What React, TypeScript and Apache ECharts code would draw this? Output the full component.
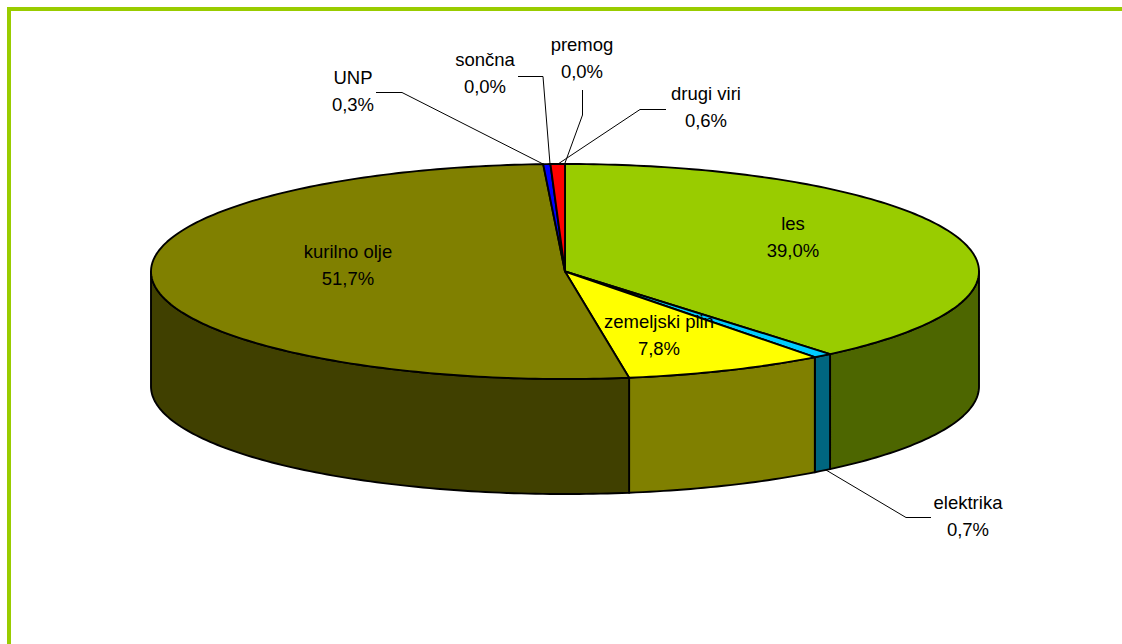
import React, { useEffect, useRef } from "react";
import * as echarts from "echarts";

const categories = ["les", "elektrika", "zemeljski plin", "kurilno olje", "UNP", "sončna", "premog", "drugi viri"];
const shares = [38.96, 0.749, 7.84, 51.66, 0.28, 0.0, 0.0, 0.56];
const topColors = ["#99CC00", "#00CCFF", "#FFFF00", "#808000", "#0000FF", "#FFFFFF", "#FFCC00", "#FF0000"];
const sideColors = ["#4D6600", "#006680", "#808000", "#404000", "#000080", "#808080", "#806600", "#800000"];

// Layout only
const CX = 565, CY = 271.5, RX = 414, RY = 107.5, DEPTH = 115;
const labelCenters: number[][] = [
  [793, 224.5], [968, 503.5], [659, 322.5], [348, 252.5], [353, 78.5], [485, 60.5], [582, 45.5], [706, 94.5],
];
const leaderLines: (number[][] | null)[] = [
  null,
  [[826, 470], [906, 517.5], [931, 517.5]],
  null,
  null,
  [[376, 92.5], [402, 92.5], [543, 164]],
  [[518, 76.5], [543, 76.5], [550, 164]],
  [[582.5, 90], [582.5, 115], [565, 163]],
  [[666, 109.5], [640, 109.5], [558, 164]],
];

const total = shares.reduce((a, b) => a + b, 0);
const startAngles: number[] = [];
shares.reduce((acc, v, i) => {
  startAngles[i] = (acc / total) * 360;
  return acc + v;
}, 0);
const pt = (deg: number, dy = 0) => {
  const r = (deg * Math.PI) / 180;
  return [CX + RX * Math.sin(r), CY - RY * Math.cos(r) + dy];
};
const arc = (a: number, b: number, dy = 0) => {
  const out: number[][] = [];
  const n = Math.max(1, Math.ceil(Math.abs(b - a)));
  for (let k = 0; k <= n; k++) out.push(pt(a + ((b - a) * k) / n, dy));
  return out;
};
const fmt = (v: number) => v.toFixed(1).replace(".", ",") + "%";
const outline = { stroke: "#000", lineWidth: 1.9, lineJoin: "round" as const };
const FONT = '18.5px "Liberation Sans", Arial, sans-serif';

function renderSlice(params: any) {
  const i = params.dataIndex;
  const a = startAngles[i];
  const b = a + (shares[i] / total) * 360;
  const children: any[] = [];
  const sa = Math.max(a, 90), sb = Math.min(b, 270);
  if (sb > sa) {
    children.push({
      type: "polygon",
      shape: { points: [...arc(sa, sb), ...arc(sb, sa, DEPTH)] },
      style: { fill: sideColors[i], ...outline },
    });
  }
  if (shares[i] > 0) {
    children.push({
      type: "polygon",
      z2: 5,
      shape: { points: [[CX, CY], ...arc(a, b)] },
      style: { fill: topColors[i], ...outline },
    });
  }
  return { type: "group", children };
}

function renderLabel(params: any) {
  const i = params.dataIndex;
  const [x, y] = labelCenters[i];
  const children: any[] = [
    {
      type: "text",
      style: { x, y: y - 1, text: categories[i], fill: "#000", align: "center", verticalAlign: "middle", font: FONT },
    },
    {
      type: "text",
      style: { x, y: y + 26, text: fmt(shares[i]), fill: "#000", align: "center", verticalAlign: "middle", font: FONT },
    },
  ];
  const line = leaderLines[i];
  if (line) {
    children.push({
      type: "polyline",
      shape: { points: line },
      style: { stroke: "#000", lineWidth: 1, fill: "none" },
    });
  }
  return { type: "group", children };
}

export default function App() {
  const ref = useRef<HTMLDivElement>(null);
  useEffect(() => {
    document.body.style.margin = "0";
    const chart = echarts.init(ref.current!, null, { renderer: "svg" });
    chart.setOption({
      animation: false,
      backgroundColor: "#FFFFFF",
      graphic: [
        { type: "rect", shape: { x: 7, y: 7, width: 1115, height: 4 }, style: { fill: "#99CC00" } },
        { type: "rect", shape: { x: 7, y: 7, width: 4, height: 637 }, style: { fill: "#99CC00" } },
      ],
      series: [
        {
          type: "custom",
          coordinateSystem: "none",
          silent: true,
          z: 2,
          data: shares.map((v, i) => [i, v]),
          renderItem: renderSlice,
        },
        {
          type: "custom",
          coordinateSystem: "none",
          silent: true,
          z: 3,
          data: shares.map((v, i) => [i, v]),
          renderItem: renderLabel,
        },
      ],
    });
    return () => chart.dispose();
  }, []);
  return <div ref={ref} style={{ width: 1122, height: 644, position: "absolute", left: 0, top: 0 }} />;
}
